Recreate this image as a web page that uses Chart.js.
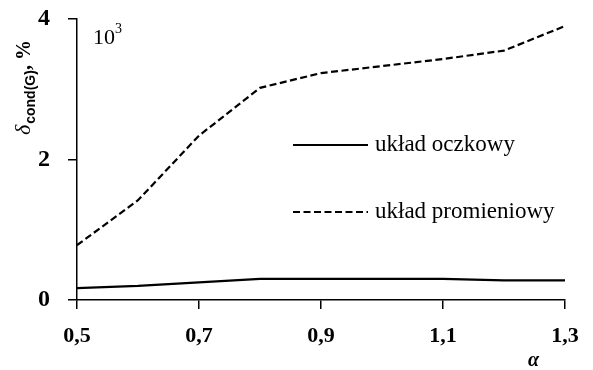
<!DOCTYPE html>
<html>
<head>
<meta charset="utf-8">
<script src="https://cdn.jsdelivr.net/npm/chart.js@4.4.0/dist/chart.umd.min.js"></script>
<style>
  html, body { margin: 0; padding: 0; background: #fff; }
  #wrap { width: 593px; height: 370px; }
</style>
</head>
<body>
<div id="wrap"><canvas id="chart" width="593" height="370"></canvas></div>
<script>
// values (y in units of 10^3 %)
const alpha = [0.5, 0.6, 0.7, 0.8, 0.9, 1.0, 1.1, 1.2, 1.3];
const meshed = [0.17, 0.2, 0.25, 0.3, 0.3, 0.3, 0.3, 0.28, 0.28];
const radial = [0.78, 1.42, 2.34, 3.02, 3.23, 3.33, 3.43, 3.55, 3.9];
const xTicks = [0.5, 0.7, 0.9, 1.1, 1.3];
const yTicks = [0, 2, 4];
const seriesNames = ["układ oczkowy", "układ promieniowy"];

const serif = "'Liberation Serif', 'DejaVu Serif', serif";

function pts(ys) {
    return alpha.map((a, i) => ({ x: a, y: ys[i] }));
}

// legend + extra labels drawn straight on the canvas
const extras = {
    id: "extras",
    afterDraw(chart) {
        const ctx = chart.ctx;
        const area = chart.chartArea;
        ctx.save();
        ctx.fillStyle = "#000";
        ctx.strokeStyle = "#000";

        // 10^3 marker
        ctx.font = "22px " + serif;
        ctx.textBaseline = "alphabetic";
        ctx.fillText("10", area.left + 16, area.top + 25);
        ctx.font = "14px " + serif;
        ctx.fillText("3", area.left + 38, area.top + 14);

        // alpha under the axis
        ctx.font = "bold italic 20px " + serif;
        ctx.fillText("α", 528, 366);

        // legend
        const rows = [{ y: 145, dash: [], w: 158 }, { y: 212, dash: [7, 3.5], w: 202 }];
        chart.data.datasets.forEach((ds, i) => {
            ctx.beginPath();
            ctx.setLineDash(rows[i].dash);
            ctx.lineWidth = 2;
            ctx.moveTo(293, rows[i].y);
            ctx.lineTo(368, rows[i].y);
            ctx.stroke();
            ctx.setLineDash([]);
            ctx.font = "23px " + serif;
            ctx.textBaseline = "middle";
            ctx.fillText(ds.label, 375, rows[i].y, rows[i].w);
        });

        // y-axis title, rotated
        ctx.translate(30, 135);
        ctx.rotate(-Math.PI / 2);
        ctx.textBaseline = "alphabetic";
        ctx.font = "italic 22px " + serif;
        ctx.fillText("δ", 0, 0);
        let x = ctx.measureText("δ").width + 1;
        ctx.font = "bold 14px 'Liberation Sans', sans-serif";
        ctx.fillText("cond(G)", x, 5);
        x += ctx.measureText("cond(G)").width;
        ctx.font = "bold 20px " + serif;
        ctx.fillText(", %", x, 0);
        ctx.restore();
    }
};

new Chart(document.getElementById("chart"), {
    type: "line",
    data: {
        datasets: [
            {
                label: seriesNames[0],
                data: pts(meshed),
                borderColor: "#000",
                borderWidth: 2.2,
                pointRadius: 0,
                tension: 0
            },
            {
                label: seriesNames[1],
                data: pts(radial),
                borderColor: "#000",
                borderWidth: 2.2,
                borderDash: [7, 3.5],
                pointRadius: 0,
                tension: 0
            }
        ]
    },
    options: {
        responsive: false,
        animation: false,
        layout: { padding: { left: 0, right: 28, top: 19, bottom: 0 } },
        plugins: {
            legend: { display: false },
            tooltip: { enabled: false }
        },
        scales: {
            x: {
                type: "linear",
                min: 0.5,
                max: 1.3,
                afterBuildTicks: (s) => { s.ticks = xTicks.map(v => ({ value: v })); },
                afterFit: (s) => { s.height = 70; s.paddingLeft = 0; s.paddingRight = 0; },
                border: { display: true, color: "#000", width: 1.5 },
                grid: { drawOnChartArea: false, drawTicks: true, tickLength: 9, color: "#000", lineWidth: 1.5 },
                ticks: {
                    color: "#000",
                    padding: 14,
                    font: { family: serif, size: 22, weight: "bold" },
                    callback: (v) => v.toFixed(1).replace(".", ",")
                }
            },
            y: {
                min: 0,
                max: 4,
                afterBuildTicks: (s) => { s.ticks = yTicks.map(v => ({ value: v })); },
                afterFit: (s) => { s.width = 77; s.paddingTop = 0; s.paddingBottom = 0; },
                border: { display: true, color: "#000", width: 1.5 },
                grid: { drawOnChartArea: false, drawTicks: true, tickLength: 9, color: "#000", lineWidth: 1.5 },
                ticks: {
                    color: "#000",
                    padding: 18,
                    font: { family: serif, size: 24, weight: "bold" }
                }
            }
        }
    },
    plugins: [extras]
});
</script>
</body>
</html>
